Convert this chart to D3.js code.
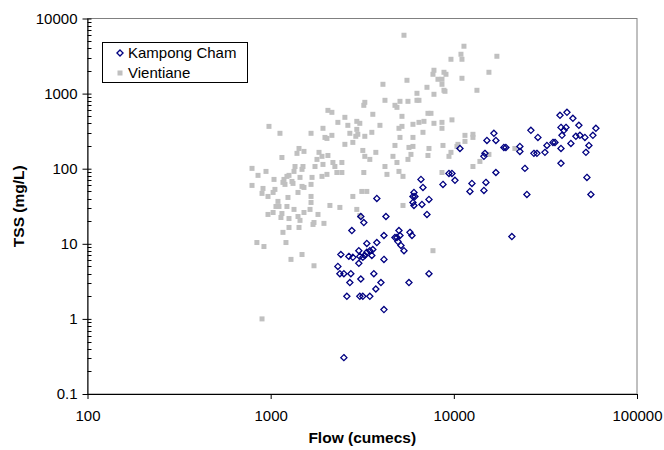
<!DOCTYPE html>
<html>
<head>
<meta charset="utf-8">
<script src="https://cdn.jsdelivr.net/npm/d3@7"></script>
<style>
  body { margin: 0; background: #fff; }
  text { font-family: "Liberation Sans", Arial, sans-serif; }
</style>
</head>
<body>
<div id="chart-area"></div>
<script>
// data (flow in cumecs, TSS in mg/L)
const kcFlow = [37978, 41469, 44671, 48165, 38459, 40951, 39936, 59646, 38945, 57440, 46385, 48774, 51958, 28777, 26348,
  16547, 15159, 16968, 34770, 35654, 32233, 43563, 54636, 18762, 19240, 22939, 22939, 38459, 10800, 27360, 28418, 31433,
  52614, 14782, 14597, 38459, 24434, 16968, 9406, 9768, 10143, 8724, 12557, 14969, 12245, 14597, 53280, 25056, 56017,
  6616, 6784, 6058, 5982, 6135, 5982, 6058, 6699, 7316, 7134, 3799, 4260, 3106, 3225, 2775, 4154, 5017, 5761, 5908,
  4771, 4892, 5081, 4954, 3799, 3349, 5145, 5343, 3029, 3612, 2417, 2672, 2810, 3067, 3266, 3349, 3478, 3185, 3567,
  4154, 3029, 2328, 2387, 2510, 2740, 3658, 7316, 3106, 2706, 4000, 5689, 3751, 2606, 3067, 3185, 3478, 4154, 2510, 20745]
const kcTss = [514, 563, 469, 378, 355, 355, 324, 345, 278, 278, 270, 278, 261, 261, 324,
  296, 238, 238, 224, 224, 204, 217, 204, 192, 192, 198, 170, 186, 186, 160, 160, 165,
  165, 160, 146, 118, 101, 89, 86.5, 86.5, 70, 61.8, 63.7, 65.7, 49.8, 51.4, 76.6, 45.4, 45.4,
  72, 56.3, 48.3, 42.7, 42.7, 35.5, 32.4, 33.4, 39, 24.6, 40.2, 23.1, 23.1, 19.2, 15, 12.9, 15, 14.2, 12.9,
  12.1, 12.1, 12.9, 10.7, 10.4, 10.1, 9.5, 8.1, 8.1, 8.4, 7.2, 6.8, 6.6, 6.8, 7.0, 7.7, 8.1, 6.6, 7.0,
  6.2, 5.5, 5.0, 4.0, 4.0, 4.0, 4.0, 4.0, 3.4, 3.05, 3.05, 3.05, 2.5, 2.0, 2.0, 2.0, 2.0, 1.33, 0.305, 12.5]

const vtFlow = [2054, 2159, 979, 1124, 1661, 1930, 1979, 2029, 2159, 2328, 1152, 1428, 1520, 1392, 1836, 1906, 2054, 1790,
  1930, 2187, 2242, 791, 853, 943, 1358, 1341, 1501, 1483, 1746, 1043, 1227, 1259, 1182, 1307, 1446, 1682, 1906, 2029,
  2299, 791, 908, 897, 1055, 1031, 1167, 1197, 1324, 1483, 1520, 1661, 1410, 1661, 967, 1243,
  1096, 1069, 1110, 1227, 1341, 1661, 1640, 1520, 1813, 2106, 2387, 967, 1031, 1152, 1138, 1259, 1410, 1446, 1724,
  1703, 1954, 1259, 1428, 1167, 841, 919, 1212, 1483, 1291, 1724, 897,
  5343, 7790, 7693, 8192, 5548, 4102, 7134, 6291, 7790, 4207, 5081, 4771, 4892, 5618, 6291, 6451, 3266, 3225, 2542,
  3612, 5210, 7224, 7502, 2639, 2953, 3067, 3950, 5017, 5210, 5982, 6451, 6870, 7790, 2953, 2706, 3567, 6784, 2916,
  2991, 3266, 5081, 5982, 2542, 2810, 4771, 5689, 5982, 7316, 3185, 3751, 5834, 7224, 3266, 3478, 4652, 4892, 5618,
  2448, 4207, 5017, 5277, 2448, 3225, 4314, 3145, 3349, 2810, 2953, 3067, 5277, 7693,
  11357, 10937, 11075, 9646, 17182, 8834, 9059, 15545, 8615, 8615, 11075, 8834, 8946, 13370, 9768, 8615, 8615, 11501,
  11501, 12716, 12716, 8724, 10532, 10400, 9646, 9406, 15545, 13881, 12716, 21542, 8615]
const vtTss = [598, 563, 366, 296, 296, 345, 261, 253, 278, 414, 141, 186, 170, 160, 165, 146, 150, 133,
  114, 121, 107, 101, 81.5, 92, 107, 92, 107, 98, 107, 72, 79, 81.5, 72, 67.7, 76.6, 76.6, 79, 84,
  89, 59.9, 54.6, 46.9, 53, 48.3, 65.7, 61.8, 63.7, 58.1, 56.3, 61.8, 48.3, 42.7, 42.7, 41.4,
  36.7, 31.4, 31.4, 31.4, 28.7, 35.5, 28.7, 26.1, 24.6, 32.4, 30.5, 24.6, 26.1, 25.3, 22.4, 21.7, 23.1, 20.5, 19.2,
  18.1, 18.7, 16.5, 16.5, 14.2, 10.4, 9.2, 10.4, 7.2, 6.2, 5.1, 1.0,
  5984, 2046, 1808, 1552, 1504, 1330, 1213, 1009, 979, 814, 789, 698, 656, 789, 814, 814, 765, 698, 483,
  530, 498, 546, 546, 378, 427, 402, 378, 345, 366, 390, 414, 427, 402, 334, 296, 305, 305, 270,
  287, 270, 261, 261, 211, 224, 204, 192, 198, 186, 175, 165, 155, 150, 146, 133, 146, 121, 133,
  121, 107, 92, 79, 89, 89, 84, 49.8, 49.8, 42.7, 28.7, 23.8, 32.4, 8.1,
  4273, 3341, 2865, 2865, 3141, 1923, 1808, 1923, 1552, 1330, 1600, 1107, 1073, 1107, 447, 414, 345, 278,
  231, 287, 261, 204, 211, 198, 165, 146, 155, 125, 107, 186, 89]

const xTicks = [100, 1000, 10000, 100000]
const yTicks = [0.1, 1, 10, 100, 1000, 10000]
const seriesNames = ["Kampong Cham", "Vientiane"]

const kcData = kcFlow.map((f, i) => ({flow: f, tss: kcTss[i]}))
const vtData = vtFlow.map((f, i) => ({flow: f, tss: vtTss[i]}))

// plot area
const MARGIN = {LEFT: 87.5, TOP: 18.5, RIGHT: 27, BOTTOM: 56}
const W = 664, H = 450
const WIDTH = W - MARGIN.LEFT - MARGIN.RIGHT
const HEIGHT = H - MARGIN.TOP - MARGIN.BOTTOM

const svg = d3.select("#chart-area").append("svg")
    .attr("width", W)
    .attr("height", H)

const x = d3.scaleLog().domain([100, 100000]).range([MARGIN.LEFT, MARGIN.LEFT + WIDTH])
const y = d3.scaleLog().domain([0.1, 10000]).range([MARGIN.TOP + HEIGHT, MARGIN.TOP])

// grey frame on top / right
svg.append("rect")
    .attr("x", MARGIN.LEFT)
    .attr("y", MARGIN.TOP)
    .attr("width", WIDTH)
    .attr("height", HEIGHT)
    .attr("fill", "none")
    .attr("stroke", "#808080")
    .attr("stroke-width", 1)

// minor y ticks (inside)
const minorY = []
for (let e = -1; e < 4; e++) {
  for (let k = 2; k <= 9; k++) minorY.push(k * Math.pow(10, e))
}
svg.append("g")
    .selectAll("line")
    .data(minorY)
    .enter()
    .append("line")
    .attr("x1", MARGIN.LEFT).attr("x2", MARGIN.LEFT + 4)
    .attr("y1", d => Math.round(y(d)) + 0.5).attr("y2", d => Math.round(y(d)) + 0.5)
    .attr("stroke", "#000")

// y axis
const yAxisCall = d3.axisLeft(y)
    .tickValues(yTicks)
    .tickFormat(d => d < 1 ? "0.1" : d3.format("d")(d))
    .tickSizeInner(5)
    .tickSizeOuter(0)
    .tickPadding(5)
const yAxis = svg.append("g")
    .attr("class", "yaxis")
    .attr("transform", `translate(${MARGIN.LEFT}, 0)`)
    .call(yAxisCall)
yAxis.select(".domain").attr("stroke", "#000")
yAxis.selectAll(".tick line").attr("x2", 4).attr("x1", -5)
yAxis.selectAll("text")
    .attr("font-size", "15px")
    .attr("fill", "#000")
    .attr("font-family", "Liberation Sans, Arial, sans-serif")

// x axis
const xAxisCall = d3.axisBottom(x)
    .tickValues(xTicks)
    .tickFormat(d3.format("d"))
    .tickSizeInner(5)
    .tickSizeOuter(0)
    .tickPadding(11)
const xAxis = svg.append("g")
    .attr("class", "xaxis")
    .attr("transform", `translate(0, ${MARGIN.TOP + HEIGHT})`)
    .call(xAxisCall)
xAxis.selectAll("text")
    .attr("font-size", "15px")
    .attr("fill", "#000")
    .attr("font-family", "Liberation Sans, Arial, sans-serif")

// axis titles
svg.append("text")
    .attr("x", MARGIN.LEFT + WIDTH / 2)
    .attr("y", 443)
    .attr("text-anchor", "middle")
    .attr("font-size", "15.5px")
    .attr("font-weight", "bold")
    .text("Flow (cumecs)")

svg.append("text")
    .attr("x", -(MARGIN.TOP + HEIGHT / 2))
    .attr("y", 24)
    .attr("text-anchor", "middle")
    .attr("font-size", "15.5px")
    .attr("font-weight", "bold")
    .attr("transform", "rotate(-90)")
    .text("TSS (mg/L)")

// Vientiane: grey squares
const sq = 5
svg.append("g")
    .selectAll("rect")
    .data(vtData)
    .enter()
    .append("rect")
    .attr("x", d => x(d.flow) - sq / 2)
    .attr("y", d => y(d.tss) - sq / 2)
    .attr("width", sq)
    .attr("height", sq)
    .attr("fill", "#C0C0C0")

// Kampong Cham: navy hollow diamonds
const diamond = d3.symbol().type(d3.symbolDiamond2).size(24)
svg.append("g")
    .selectAll("path")
    .data(kcData)
    .enter()
    .append("path")
    .attr("d", diamond)
    .attr("transform", d => `translate(${x(d.flow)}, ${y(d.tss)})`)
    .attr("fill", "none")
    .attr("stroke", "#000080")
    .attr("stroke-width", 1.3)

// legend
const legend = svg.append("g")
legend.append("rect")
    .attr("x", 102.5).attr("y", 42.5)
    .attr("width", 145).attr("height", 40)
    .attr("fill", "#fff")
    .attr("stroke", "#000")
legend.append("path")
    .attr("d", diamond)
    .attr("transform", "translate(120, 53)")
    .attr("fill", "none")
    .attr("stroke", "#000080")
    .attr("stroke-width", 1.3)
legend.append("rect")
    .attr("x", 120 - sq / 2).attr("y", 73 - sq / 2)
    .attr("width", sq).attr("height", sq)
    .attr("fill", "#C0C0C0")
legend.selectAll(".lg-label")
    .data(seriesNames)
    .enter()
    .append("text")
    .attr("class", "lg-label")
    .attr("x", 128)
    .attr("y", (d, i) => 58 + i * 20)
    .attr("font-size", "15px")
    .text(d => d)
</script>
</body>
</html>
